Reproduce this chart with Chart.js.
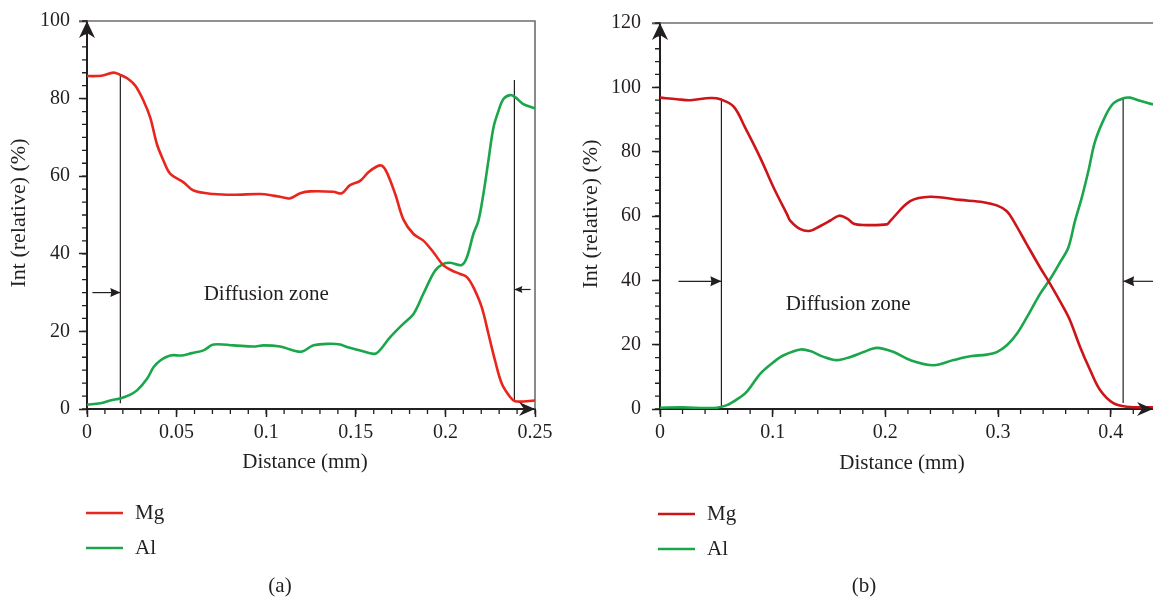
<!DOCTYPE html>
<html>
<head>
<meta charset="utf-8">
<title>Mg / Al line scan</title>
<script src="https://cdn.jsdelivr.net/npm/chart.js@4.4.0/dist/chart.umd.min.js"></script>
<style>
body { margin: 0; background: #fff; }
#wrap { position: relative; width: 1153px; height: 603px; }
#wrap canvas { position: absolute; top: 0; }
#chartA { left: 0; }
#chartB { left: 576px; }
</style>
</head>
<body>
<div id="wrap">
    <canvas id="chartA" width="576" height="603"></canvas>
    <canvas id="chartB" width="577" height="603"></canvas>
</div>
<script>
// ---- (a) line scan ----
var distA_Mg = [0, 0.008, 0.0148, 0.0186, 0.0232, 0.027, 0.0316, 0.0353, 0.039, 0.0427, 0.0465, 0.0539, 0.0595, 0.0706,
    0.0818, 0.0967, 0.104, 0.111, 0.1134, 0.119, 0.1245, 0.1375, 0.1422, 0.1468, 0.1524, 0.157, 0.1617, 0.1645, 0.1673,
    0.172, 0.1766, 0.1822, 0.1877, 0.1933, 0.1989, 0.2036, 0.2082, 0.212, 0.2156, 0.2203, 0.224, 0.2277, 0.2315, 0.2361,
    0.2389, 0.2454, 0.25];
var mgA = [85.8, 85.9, 86.7, 86.1, 85, 83.3, 79.4, 75.1, 68.3, 64, 60.6, 58.4, 56.3, 55.4,
    55.2, 55.4, 55.0, 54.4, 54.3, 55.6, 56.1, 56.0, 55.6, 57.7, 58.8, 61, 62.5, 62.7, 61,
    55.4, 48.8, 45.1, 43.4, 40.4, 37, 35.7, 34.8, 34, 31.4, 26.2, 19.4, 12.5, 6.5, 3.1,
    2, 2, 2.2];

var distA_Al = [0, 0.0074, 0.013, 0.019, 0.0232, 0.0279, 0.0335, 0.0372, 0.0409, 0.0465, 0.053, 0.0586, 0.065, 0.0706,
    0.0818, 0.0929, 0.0985, 0.1078, 0.1152, 0.12, 0.1264, 0.1357, 0.1413, 0.145, 0.1524, 0.16, 0.1627, 0.1692, 0.1766,
    0.1822, 0.1877, 0.1943, 0.1989, 0.2026, 0.2091, 0.212, 0.2156, 0.2184, 0.2212, 0.224, 0.2268, 0.2296, 0.2324,
    0.2361, 0.2389, 0.2435, 0.25];
var alA = [1.1, 1.5, 2.2, 2.8, 3.5, 4.8, 7.8, 10.8, 12.5, 13.8, 13.8, 14.4, 15.1, 16.6,
    16.4, 16.1, 16.4, 16.1, 15.1, 14.8, 16.4, 16.8, 16.6, 16, 15.1, 14.2, 14.8, 18.5, 22,
    24.5, 29.7, 35.7, 37.4, 37.7, 37.1, 39.1, 45.1, 48.5, 55.4, 64, 72.5, 76.8, 79.9,
    80.9, 80.4, 78.6, 77.5];

// zone boundaries: distance, top and bottom of the marker line, arrow start and height
var edgeA = [0.0186, 0.2385];
var edgeTopA = [86.3, 84.8];
var edgeBotA = [1.5, 1.8];
var arrowFromA = [0.003, 0.2475];
var arrowLevelA = [30, 30.8];
var xTicksA = [0, 0.05, 0.1, 0.15, 0.2, 0.25];

// ---- (b) line scan ----
var distB_Mg = [0, 0.0152, 0.027, 0.0448, 0.0536, 0.0654, 0.0758, 0.0891, 0.1009, 0.1128, 0.1157, 0.1246, 0.1334, 0.1423,
    0.1512, 0.159, 0.1665, 0.172, 0.18, 0.2014, 0.2044, 0.222, 0.2398, 0.2664, 0.2871, 0.2989, 0.3078, 0.3137, 0.3255,
    0.3373, 0.3462, 0.358, 0.3639, 0.3728, 0.3817, 0.3905, 0.4023, 0.4142, 0.4375];
var mgB = [96.8, 96.3, 96.0, 96.7, 96.3, 94, 87.3, 78, 68.8, 60.5, 58.5, 55.9, 55.4, 56.9,
    58.6, 60.1, 59.1, 57.6, 57.2, 57.4, 58.5, 64.6, 66, 65, 64.3, 63.3, 61.5, 58.5, 51.2,
    44, 38.9, 31.6, 27.5, 19.3, 12.1, 5.9, 1.8, 0.7, 0.5];

var distB_Al = [0, 0.02, 0.04, 0.0505, 0.0594, 0.0683, 0.0771, 0.0891, 0.1009, 0.1098, 0.1246, 0.1334, 0.1452, 0.1571,
    0.169, 0.1807, 0.1926, 0.2073, 0.222, 0.2427, 0.2605, 0.2753, 0.29, 0.2989, 0.3078, 0.3167, 0.3255, 0.3373, 0.3462,
    0.355, 0.3624, 0.3683, 0.3743, 0.3801, 0.3861, 0.395, 0.4023, 0.4112, 0.4171, 0.4259, 0.4375];
var alB = [0.4, 0.5, 0.3, 0.4, 1.2, 3, 5.4, 11, 14.6, 16.7, 18.5, 18, 16.2, 15.2,
    16.2, 17.7, 19, 17.7, 15.2, 13.6, 15.2, 16.4, 16.9, 17.7, 19.8, 23.4, 28.5, 35.8, 40.4,
    45.6, 50.2, 58.5, 65.7, 73.9, 83.2, 90.9, 95, 96.6, 96.8, 95.8, 94.7];

var edgeB = [0.0545, 0.411];
var edgeTopB = [96.5, 96.7];
var edgeBotB = [0.6, 1.9];
var arrowFromB = [0.0164, 0.4375];
var arrowLevelB = [39.7, 39.7];
var xTicksB = [0, 0.1, 0.2, 0.3, 0.4];

var ink = '#231f20';
var serif = '"Liberation Serif", "Times New Roman", serif';

function pts(xs, ys) {
    var out = [];
    for (var i = 0; i < xs.length; i++) out.push({ x: xs[i], y: ys[i] });
    return out;
}

// filled arrow head with a notched back, tip at (x, y) pointing along angle
function head(ctx, x, y, angle, len, half, notch) {
    ctx.save();
    ctx.translate(x, y);
    ctx.rotate(angle);
    ctx.beginPath();
    ctx.moveTo(0, 0);
    ctx.lineTo(-len, -half);
    ctx.lineTo(-len + notch, 0);
    ctx.lineTo(-len, half);
    ctx.closePath();
    ctx.fill();
    ctx.restore();
}

var decor = {
    id: 'decor',
    beforeDatasetsDraw: function (chart, args, o) {
        var ctx = chart.ctx, xs = chart.scales.x, ys = chart.scales.y, a = chart.chartArea;
        ctx.save();
        // frame
        ctx.strokeStyle = '#6d6e71';
        ctx.lineWidth = 1.6;
        ctx.beginPath();
        ctx.moveTo(a.left - 8, a.top);
        ctx.lineTo(a.right, a.top);
        if (o.rightFrame) {
            ctx.lineTo(a.right, a.bottom);
        }
        ctx.stroke();

        // minor ticks
        ctx.strokeStyle = ink;
        ctx.lineWidth = 1.3;
        ctx.beginPath();
        for (var v = 0; v <= ys.max + 1e-9; v += o.yMinor) {
            var py = ys.getPixelForValue(v);
            ctx.moveTo(a.left - 5, py);
            ctx.lineTo(a.left, py);
        }
        for (var u = 0; u <= xs.max + 1e-9; u += o.xMinor) {
            var px = xs.getPixelForValue(u);
            ctx.moveTo(px, a.bottom);
            ctx.lineTo(px, a.bottom + 5);
        }
        ctx.stroke();

        // zone boundaries and arrows
        ctx.strokeStyle = ink;
        ctx.fillStyle = ink;
        ctx.lineWidth = 1.2;
        for (var i = 0; i < o.edges.length; i++) {
            var ex = xs.getPixelForValue(o.edges[i]);
            ctx.beginPath();
            ctx.moveTo(ex, ys.getPixelForValue(o.edgeTop[i]));
            ctx.lineTo(ex, ys.getPixelForValue(o.edgeBot[i]));
            ctx.stroke();
            var ay = ys.getPixelForValue(o.arrowLevel[i]);
            var ax = xs.getPixelForValue(o.arrowFrom[i]);
            ctx.beginPath();
            ctx.moveTo(ax, ay);
            ctx.lineTo(ex, ay);
            ctx.stroke();
            head(ctx, ex, ay, ax < ex ? 0 : Math.PI, o.arrowLen[i], o.arrowHalf[i], 1);
        }

        ctx.font = '21px ' + serif;
        ctx.textAlign = 'center';
        ctx.textBaseline = 'middle';
        ctx.fillText('Diffusion zone', xs.getPixelForValue(o.zoneText[0]), ys.getPixelForValue(o.zoneText[1]));
        ctx.restore();
    },
    afterDraw: function (chart, args, o) {
        var ctx = chart.ctx, a = chart.chartArea;
        ctx.save();
        ctx.fillStyle = ink;
        // axis arrow heads
        head(ctx, a.left, a.top, -Math.PI / 2, 17, 8, 5);
        head(ctx, a.right, a.bottom, 0, 16, 7, 5);

        ctx.font = '21px ' + serif;
        ctx.textAlign = 'center';
        ctx.textBaseline = 'middle';
        ctx.fillText('Distance (mm)', o.xTitle[0], o.xTitle[1]);
        ctx.save();
        ctx.translate(o.yTitle[0], o.yTitle[1]);
        ctx.rotate(-Math.PI / 2);
        ctx.font = '22px ' + serif;
        ctx.fillText('Int (relative) (%)', 0, 0);
        ctx.restore();
        ctx.fillText(o.caption, o.captionAt[0], o.captionAt[1]);

        // legend
        var ds = chart.data.datasets;
        ctx.textAlign = 'left';
        for (var i = 0; i < ds.length; i++) {
            var ly = o.legend[1] + i * 35;
            ctx.strokeStyle = ds[i].borderColor;
            ctx.lineWidth = 2.5;
            ctx.beginPath();
            ctx.moveTo(o.legend[0], ly);
            ctx.lineTo(o.legend[0] + 37, ly);
            ctx.stroke();
            ctx.fillText(ds[i].label, o.legend[0] + 49, ly);
        }
        ctx.restore();
    }
};

function makeChart(id, cfg) {
    return new Chart(document.getElementById(id), {
        type: 'line',
        data: {
            datasets: [{
                label: 'Mg',
                data: pts(cfg.mgX, cfg.mgY),
                borderColor: cfg.mgColor,
                borderWidth: 2.6,
                pointRadius: 0,
                tension: 0.35
            }, {
                label: 'Al',
                data: pts(cfg.alX, cfg.alY),
                borderColor: '#1ba64b',
                borderWidth: 2.6,
                pointRadius: 0,
                tension: 0.35
            }]
        },
        options: {
            responsive: false,
            animation: false,
            layout: { padding: cfg.padding },
            plugins: {
                legend: { display: false },
                tooltip: { enabled: false },
                decor: cfg.decor
            },
            scales: {
                x: {
                    type: 'linear',
                    min: 0,
                    max: cfg.xMax,
                    grid: { drawOnChartArea: false, tickLength: 8, tickColor: ink, tickWidth: 1.5 },
                    border: { color: ink, width: 2 },
                    ticks: {
                        padding: 4,
                        color: ink,
                        font: { family: serif, size: 20 },
                        callback: function (v) { return String(+v.toFixed(2)); }
                    },
                    afterBuildTicks: function (s) {
                        s.ticks = cfg.xTicks.map(function (v) { return { value: v }; });
                    },
                    afterFit: function (s) { s.height = 60; }
                },
                y: {
                    min: 0,
                    max: cfg.yMax,
                    grid: { drawOnChartArea: false, tickLength: 8, tickColor: ink, tickWidth: 1.5 },
                    border: { color: ink, width: 2 },
                    ticks: {
                        stepSize: 20,
                        padding: cfg.yPad,
                        color: ink,
                        font: { family: serif, size: 20 }
                    },
                    afterFit: function (s) { s.width = cfg.yWidth; }
                }
            }
        },
        plugins: [decor]
    });
}

makeChart('chartA', {
    mgX: distA_Mg, mgY: mgA, alX: distA_Al, alY: alA,
    mgColor: '#e8261d',
    xMax: 0.25, xTicks: xTicksA, yMax: 100,
    yWidth: 87, yPad: 9,
    padding: { left: 0, right: 41, top: 19, bottom: 134 },
    decor: {
        rightFrame: true,
        yMinor: 20 / 6, xMinor: 0.01,
        edges: edgeA, edgeTop: edgeTopA, edgeBot: edgeBotA,
        arrowFrom: arrowFromA, arrowLevel: arrowLevelA,
        arrowLen: [10, 8], arrowHalf: [4.5, 3.5],
        zoneText: [0.1, 29.6],
        xTitle: [305, 462], yTitle: [19, 213],
        caption: '(a)', captionAt: [280, 586],
        legend: [86, 513]
    }
});

makeChart('chartB', {
    mgX: distB_Mg, mgY: mgB, alX: distB_Al, alY: alB,
    mgColor: '#cc1419',
    xMax: 0.4375, xTicks: xTicksB, yMax: 120,
    yWidth: 84, yPad: 11,
    padding: { left: 0, right: 0, top: 21, bottom: 134 },
    decor: {
        rightFrame: false,
        yMinor: 4, xMinor: 0.02,
        edges: edgeB, edgeTop: edgeTopB, edgeBot: edgeBotB,
        arrowFrom: arrowFromB, arrowLevel: arrowLevelB,
        arrowLen: [11, 11], arrowHalf: [5, 5],
        zoneText: [0.167, 32.6],
        xTitle: [326, 463], yTitle: [15, 214],
        caption: '(b)', captionAt: [288, 586],
        legend: [82, 514]
    }
});
</script>
</body>
</html>
